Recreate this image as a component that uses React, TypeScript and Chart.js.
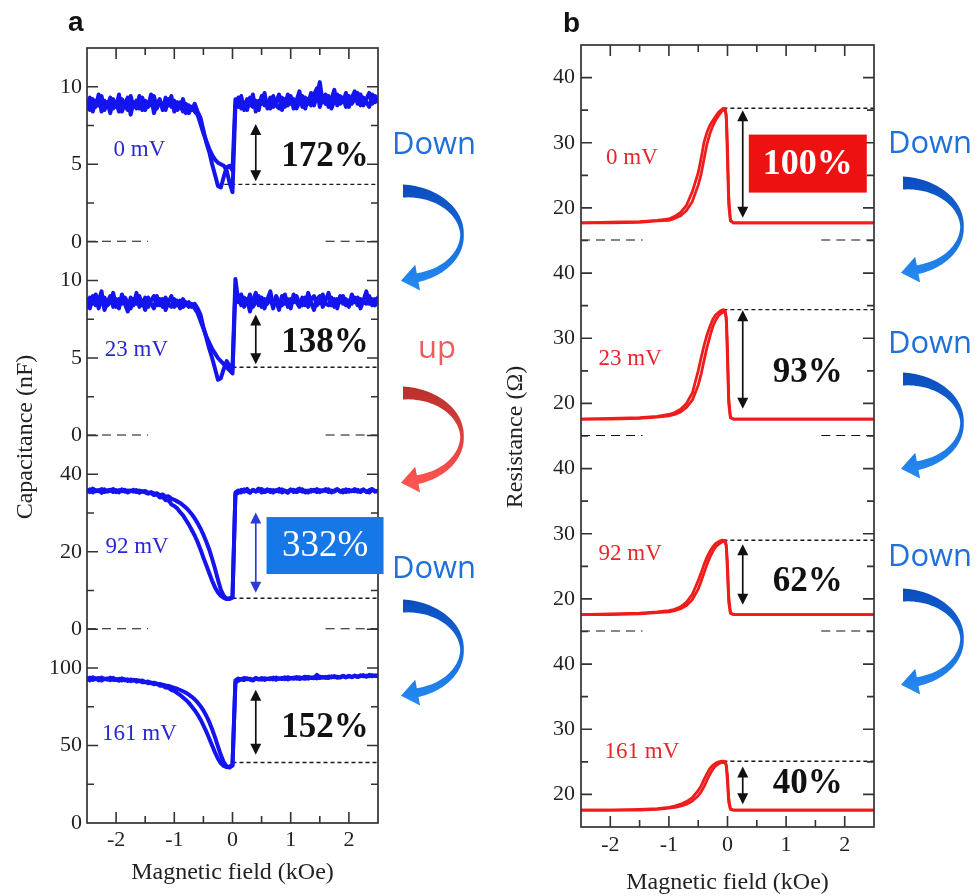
import React, { useEffect, useRef } from 'react';
import { Chart, registerables } from 'chart.js';

Chart.register(...registerables);

const SERIF = "'Liberation Serif', 'Times New Roman', serif";
const SANS = "'Open Sans', 'Noto Sans', sans-serif";

// ---------------- Panel a : capacitance (nF) vs magnetic field (kOe) ----------------
const FIELD_A = [
  -2.5, -2.45, -2.4, -2.35, -2.3, -2.25, -2.2, -2.15, -2.1, -2.05,
  -2, -1.95, -1.9, -1.85, -1.8, -1.75, -1.7, -1.65, -1.6, -1.55,
  -1.5, -1.45, -1.4, -1.35, -1.3, -1.25, -1.2, -1.15, -1.1, -1.05,
  -1, -0.95, -0.9, -0.85, -0.8, -0.75, -0.7, -0.65, -0.6, -0.55,
  -0.5, -0.45, -0.4, -0.35, -0.3, -0.25, -0.2, -0.15, -0.1, -0.05,
  0, 0.05, 0.1, 0.15, 0.2, 0.25, 0.3, 0.35, 0.4, 0.45,
  0.5, 0.55, 0.6, 0.65, 0.7, 0.75, 0.8, 0.85, 0.9, 0.95,
  1, 1.05, 1.1, 1.15, 1.2, 1.25, 1.3, 1.35, 1.4, 1.45,
  1.5, 1.55, 1.6, 1.65, 1.7, 1.75, 1.8, 1.85, 1.9, 1.95,
  2, 2.05, 2.1, 2.15, 2.2, 2.25, 2.3, 2.35, 2.4, 2.45,
  2.5,
];

const CAP_0MV_SWEEP1 = [
  8.6, 9.3, 8.4, 9.1, 8.8, 9.4, 8.5, 9.0, 8.3, 9.2,
  8.7, 9.5, 8.4, 8.9, 9.3, 8.2, 9.0, 8.6, 9.4, 8.5,
  9.1, 8.7, 9.5, 8.3, 8.9, 9.2, 8.5, 9.3, 8.8, 9.4,
  8.4, 9.0, 8.6, 9.2, 8.3, 8.8, 8.5, 8.9,
  8.4, 8.0, 7.2, 6.4, 5.8, 5.0, 4.3, 3.6, 3.5, 4.2, 4.8, 4.9, 4.6, 9.2,
  8.7, 9.4, 8.5, 9.2, 8.8, 9.5, 8.4, 9.1, 8.9, 9.6,
  8.6, 9.3, 8.7, 9.0, 9.5, 8.5, 9.2, 8.8, 9.4, 8.6,
  9.1, 9.7, 8.7, 9.3, 8.9, 9.6, 8.8, 9.4, 10.3, 9.0,
  9.5, 8.7, 9.2, 9.8, 8.8, 9.4, 9.0, 9.6, 8.7, 9.3,
  9.7, 8.9, 9.5, 8.8, 9.2, 9.6, 8.9, 9.4, 9.1,
];
const CAP_0MV_SWEEP2 = [
  9.0, 8.5, 9.2, 8.7, 9.5, 8.4, 9.1, 8.8, 9.3, 8.6,
  9.0, 8.4, 9.2, 8.8, 8.5, 9.4, 8.7, 9.1, 8.6, 9.3,
  8.5, 9.0, 8.8, 9.4, 8.6, 9.0, 8.7, 8.5, 9.2, 8.7,
  9.1, 8.5, 9.0, 8.4, 8.9, 8.3, 8.7, 8.4,
  8.2, 7.6, 7.0, 6.5, 6.0, 5.6, 5.3, 5.1, 5.0, 4.9, 4.6, 3.8, 3.2, 8.8,
  9.3, 8.6, 9.0, 8.5, 9.3, 8.7, 9.1, 8.5, 9.4, 8.8,
  9.0, 8.6, 9.4, 8.8, 8.6, 9.3, 8.7, 9.5, 8.9, 9.2,
  8.6, 9.0, 9.4, 8.6, 9.2, 8.8, 9.5, 9.9, 8.7, 9.3,
  8.9, 9.4, 8.6, 9.1, 9.5, 8.9, 9.3, 8.7, 9.4, 8.9,
  9.2, 9.6, 8.8, 9.3, 9.0, 8.7, 9.5, 9.0, 9.3,
];

const CAP_23MV_SWEEP1 = [
  8.8, 8.2, 9.0, 8.4, 8.7, 9.3, 8.1, 8.6, 9.0, 8.3,
  8.8, 8.2, 9.1, 8.5, 8.0, 8.9, 8.4, 9.2, 8.3, 8.7,
  8.1, 8.9, 8.5, 8.2, 9.0, 8.4, 8.8, 8.1, 8.6, 9.0,
  8.3, 8.7, 8.2, 8.8, 8.4, 8.6, 8.3, 8.5,
  8.2, 7.8, 7.0, 6.3, 5.6, 5.0, 4.3, 3.6, 3.7, 4.3, 4.8, 4.5, 4.3, 10.1,
  8.6, 9.1, 8.3, 8.8, 8.0, 8.7, 9.2, 8.4, 8.9, 8.2,
  8.8, 9.3, 8.4, 8.7, 8.1, 9.0, 8.5, 8.8, 8.2, 9.1,
  8.6, 8.3, 8.9, 8.4, 9.2, 8.6, 8.1, 8.8, 9.0, 8.3,
  8.7, 9.2, 8.4, 8.8, 8.2, 9.0, 8.5, 8.8, 8.3, 9.1,
  8.6, 8.9, 8.2, 8.7, 9.3, 8.5, 8.8, 8.4, 8.9,
];
const CAP_23MV_SWEEP2 = [
  8.3, 8.9, 8.5, 9.1, 8.2, 8.7, 8.9, 8.4, 8.6, 9.2,
  8.3, 8.8, 8.5, 8.9, 8.6, 8.2, 8.8, 8.5, 9.0, 8.4,
  8.9, 8.3, 8.7, 9.0, 8.4, 8.8, 8.3, 8.9, 8.5, 8.3,
  8.8, 8.4, 8.7, 8.3, 8.6, 8.3, 8.5, 8.2,
  7.9, 7.4, 6.9, 6.4, 6.0, 5.6, 5.3, 5.0, 4.8, 4.6, 4.4, 4.2, 4.0, 9.4,
  9.0, 8.4, 8.9, 8.5, 9.1, 8.3, 8.6, 9.0, 8.3, 8.8,
  8.5, 8.9, 8.2, 9.0, 8.6, 8.4, 9.1, 8.3, 8.8, 8.6,
  9.0, 8.5, 8.4, 8.9, 8.3, 8.8, 9.0, 8.4, 8.6, 9.1,
  8.5, 8.4, 8.9, 8.3, 8.8, 8.6, 9.0, 8.4, 8.7, 8.5,
  8.9, 8.4, 8.8, 8.6, 8.5, 9.0, 8.4, 8.8, 8.6,
];

const CAP_92MV_SWEEP1 = [
  36.0, 35.4, 36.3, 35.6, 35.9, 35.2, 36.1, 35.5, 35.8, 36.2,
  35.4, 35.9, 35.6, 36.0, 35.3, 35.8, 35.5, 35.9, 35.2, 35.6,
  35.3, 35.0, 35.2, 34.6, 34.8, 34.0, 34.2, 33.3, 33.3, 32.2,
  31.8, 31.2, 30.2, 29.4, 28.2, 27.0, 25.6, 24.2, 22.5, 20.6,
  18.5, 16.5, 14.5, 12.5, 10.8, 9.5, 8.6, 8.1, 7.8, 8.0, 8.2, 34.8,
  35.2, 36.0, 35.5, 36.2, 35.4, 35.9, 35.6, 36.3, 35.3, 35.8,
  36.1, 35.4, 35.9, 35.6, 36.2, 35.3, 35.8, 35.5, 36.1, 35.4,
  35.9, 36.3, 35.5, 35.8, 35.3, 36.0, 35.6, 36.2, 35.4, 35.9,
  35.7, 36.1, 35.3, 35.8, 36.2, 35.5, 35.9, 35.4, 36.0, 35.6,
  36.2, 35.5, 35.8, 36.1, 35.4, 35.9, 36.2, 35.5, 35.8,
];
const CAP_92MV_SWEEP2 = [
  35.5, 36.1, 35.3, 35.9, 35.6, 36.2, 35.4, 35.8, 36.0, 35.4,
  35.9, 35.3, 36.1, 35.5, 35.8, 35.6, 36.0, 35.4, 35.8, 35.5,
  35.7, 35.2, 35.4, 35.0, 35.1, 34.6, 34.8, 34.2, 34.3, 33.7,
  33.4, 33.0, 32.6, 32.0, 31.4, 30.6, 29.7, 28.6, 27.4, 26.0,
  24.4, 22.6, 20.6, 18.2, 15.6, 12.8, 10.2, 8.6, 7.9, 7.8, 8.2, 35.3,
  35.8, 35.3, 36.1, 35.6, 35.2, 36.0, 35.5, 35.8, 36.2, 35.4,
  35.7, 36.0, 35.3, 35.9, 35.5, 36.1, 35.6, 35.2, 35.9, 36.0,
  35.4, 35.7, 36.1, 35.3, 35.8, 35.5, 36.0, 35.4, 35.9, 35.6,
  36.2, 35.4, 35.8, 35.5, 36.0, 35.7, 35.3, 36.1, 35.5, 35.8,
  35.6, 36.0, 35.4, 35.9, 35.6, 35.3, 36.0, 35.7, 35.5,
];

const CAP_161MV_SWEEP1 = [
  93.5, 92.0, 94.0, 92.8, 93.6, 91.9, 93.2, 92.5, 93.8, 92.2,
  92.9, 91.8, 93.4, 92.0, 92.7, 91.5, 92.4, 91.2, 92.0, 90.8,
  91.0, 90.2, 90.6, 89.5, 89.8, 88.6, 88.6, 87.4, 87.2, 85.8,
  85.2, 83.8, 82.6, 81.0, 79.4, 77.5, 75.2, 72.8, 70.0, 66.8,
  63.0, 59.0, 54.5, 50.0, 45.5, 41.5, 38.5, 36.8, 36.0, 36.5, 37.5, 90.5,
  91.8, 93.0, 92.2, 93.4, 92.5, 91.9, 93.2, 92.6, 93.6, 92.3,
  93.1, 92.7, 93.8, 92.4, 93.3, 92.9, 94.0, 92.6, 93.5, 93.0,
  94.2, 92.9, 93.6, 94.4, 93.1, 93.9, 93.4, 95.6, 93.5, 94.2,
  93.6, 94.5, 93.9, 94.8, 93.7, 94.3, 95.0, 93.9, 94.6, 94.1,
  95.1, 94.2, 94.8, 95.4, 94.3, 95.6, 94.7, 95.2, 94.6,
];
const CAP_161MV_SWEEP2 = [
  92.6, 93.8, 92.3, 93.4, 92.0, 93.9, 92.7, 93.3, 92.1, 93.6,
  92.2, 93.1, 91.9, 92.8, 91.6, 92.6, 91.9, 92.3, 91.4, 91.9,
  90.9, 91.3, 90.2, 90.5, 89.9, 89.7, 89.3, 88.8, 88.4, 87.8,
  87.2, 86.6, 85.8, 85.0, 84.0, 82.8, 81.4, 79.8, 77.8, 75.4,
  72.6, 69.2, 65.2, 60.5, 55.2, 49.5, 43.8, 39.2, 36.5, 35.8, 37.0, 92.0,
  93.2, 92.4, 93.6, 92.8, 93.1, 92.3, 93.7, 92.9, 92.5, 93.4,
  92.8, 93.5, 92.6, 93.9, 93.0, 93.6, 92.8, 94.1, 93.3, 93.8,
  93.1, 94.0, 93.4, 93.0, 94.3, 93.5, 94.0, 93.3, 94.5, 93.8,
  94.3, 93.5, 94.6, 94.0, 94.4, 93.8, 94.7, 94.2, 95.0, 94.3,
  94.8, 94.4, 95.3, 94.6, 95.0, 94.7, 95.4, 94.8, 95.1,
];

const BIAS_LABELS = ['0 mV', '23 mV', '92 mV', '161 mV'];
const CAP_CHANGE = ['172%', '138%', '332%', '152%'];
const CAP_RANGE = [[0, 12.5], [0, 12.5], [0, 50], [0, 125]];
const CAP_STEP = [2.5, 2.5, 10, 25];
const CAP_TICK_LABELS = [[0, 5, 10], [0, 5, 10], [0, 20, 40], [0, 50, 100]];
const CAP_REF_LEVEL = [3.7, 4.4, 8.0, 39];
const CAP_REF_FROM = [-0.14, 0, 0, 0];
const CAP_ARROW = [[3.9, 7.6], [4.6, 7.8], [9.4, 30.1], [44, 86]];
const CAP_ARROW_X = 0.4;
const CAP_LABEL_X = [-1.6, -1.65, -1.64, -1.6];
const CAP_LABEL_Y = [5.9, 5.5, 21.3, 57.4];
const CAP_PCT_X = 1.59;
const CAP_PCT_Y = [5.55, 6.05, 21.6, 62];

// ---------------- Panel b : resistance (Ω) vs magnetic field (kOe) ----------------
const FIELD_B = [
  -2.5, -2.0, -1.5, -1.2, -1.0, -0.9, -0.8, -0.7, -0.6, -0.5,
  -0.45, -0.4, -0.35, -0.3, -0.25, -0.2, -0.15, -0.1, -0.07, -0.04,
  -0.02, 0.0, 0.02, 0.05, 0.1, 0.5, 1.0, 1.5, 2.0, 2.5,
];
const RES_0MV_SWEEP1 = [
  17.7, 17.8, 17.9, 18.1, 18.3, 18.7, 19.3, 20.4, 22.5, 25.4,
  27.6, 30.1, 31.6, 32.7, 33.4, 34.1, 34.7, 35.1, 35.3, 35.2,
  33.5, 27.0, 20.5, 18.0, 17.7, 17.7, 17.7, 17.7, 17.7, 17.7,
];
const RES_0MV_SWEEP2 = [
  17.7, 17.7, 17.8, 18.0, 18.1, 18.4, 18.8, 19.6, 21.0, 23.5,
  25.2, 27.5, 29.8, 31.4, 32.6, 33.5, 34.2, 34.8, 35.0, 35.1,
  34.3, 29.5, 22.0, 18.1, 17.7, 17.7, 17.7, 17.7, 17.7, 17.7,
];
const RES_23MV_SWEEP1 = [
  17.6, 17.7, 17.8, 18.0, 18.3, 18.6, 19.1, 20.0, 21.6, 25.0,
  27.0, 28.9, 30.5, 31.8, 32.9, 33.6, 34.0, 34.3, 34.4, 34.2,
  32.5, 26.5, 20.0, 17.8, 17.6, 17.6, 17.6, 17.6, 17.6, 17.6,
];
const RES_23MV_SWEEP2 = [
  17.6, 17.6, 17.7, 17.9, 18.1, 18.3, 18.7, 19.4, 20.5, 22.8,
  24.5, 26.6, 28.6, 30.3, 31.8, 32.8, 33.5, 33.9, 34.0, 34.0,
  33.3, 28.5, 21.0, 17.9, 17.6, 17.6, 17.6, 17.6, 17.6, 17.6,
];
const RES_92MV_SWEEP1 = [
  17.6, 17.7, 17.8, 18.0, 18.2, 18.4, 18.8, 19.5, 20.7, 22.8,
  24.0, 25.3, 26.4, 27.3, 28.0, 28.5, 28.8, 29.0, 29.0, 28.9,
  27.8, 24.0, 19.5, 17.8, 17.6, 17.6, 17.6, 17.6, 17.6, 17.6,
];
const RES_92MV_SWEEP2 = [
  17.6, 17.6, 17.7, 17.9, 18.0, 18.2, 18.5, 19.0, 19.9, 21.5,
  22.7, 24.0, 25.3, 26.4, 27.3, 28.0, 28.4, 28.7, 28.8, 28.8,
  28.3, 25.5, 20.5, 17.9, 17.6, 17.6, 17.6, 17.6, 17.6, 17.6,
];
const RES_161MV_SWEEP1 = [
  17.6, 17.6, 17.7, 17.8, 18.0, 18.2, 18.5, 18.9, 19.5, 20.6,
  21.3, 22.3, 23.2, 24.0, 24.5, 24.8, 25.0, 25.1, 25.1, 25.0,
  24.3, 21.8, 18.8, 17.7, 17.6, 17.6, 17.6, 17.6, 17.6, 17.6,
];
const RES_161MV_SWEEP2 = [
  17.6, 17.6, 17.6, 17.7, 17.9, 18.0, 18.2, 18.5, 19.0, 19.8,
  20.4, 21.2, 22.2, 23.1, 23.9, 24.4, 24.7, 24.9, 24.9, 24.9,
  24.5, 22.8, 19.5, 17.8, 17.6, 17.6, 17.6, 17.6, 17.6, 17.6,
];

const RES_CHANGE = ['100%', '93%', '62%', '40%'];
const RES_RANGE = [15, 45];
const RES_STEP = 5;
const RES_TICK_LABELS = [20, 30, 40];
const RES_REF_LEVEL = [35.3, 34.4, 29.0, 25.1];
const RES_REF_FROM = [-0.07, -0.07, -0.07, -0.07];
const RES_ARROW = [[18.5, 35.0], [19.2, 34.3], [19.1, 28.4], [18.5, 24.3]];
const RES_ARROW_X = 0.26;
const RES_LABEL_X = [-1.63, -1.66, -1.66, -1.46];
const RES_LABEL_Y = [27.6, 26.8, 26.9, 26.5];
const RES_PCT_X = 1.37;
const RES_PCT_Y = [26.8, 24.8, 22.7, 21.8];

// field segments of the dashed break marks drawn at each sub-plot's base line
const BREAK_MARK_X = [[-2.5, -1.45], [1.6, 2.5]];

// ---------------- layout (pixels, page coordinates) ----------------
const SWEEP_ARROWS_A = [
  { word: 'Down', tx: 434, tb: 154, cx: 403, top: 191, hue: 'blue' },
  { word: 'up', tx: 437, tb: 358, cx: 403, top: 393, hue: 'red' },
  { word: 'Down', tx: 434, tb: 578, cx: 403, top: 606, hue: 'blue' },
];
const SWEEP_ARROWS_B = [
  { word: 'Down', tx: 930, tb: 153, cx: 903, top: 183, hue: 'blue' },
  { word: 'Down', tx: 930, tb: 353, cx: 903, top: 379, hue: 'blue' },
  { word: 'Down', tx: 930, tb: 566, cx: 903, top: 595, hue: 'blue' },
];

function zip(xs: number[], ys: number[]) {
  const n = Math.min(xs.length, ys.length);
  const out: { x: number; y: number }[] = [];
  for (let k = 0; k < n; k++) out.push({ x: xs[k], y: ys[k] });
  return out;
}

function drawDoubleArrow(ctx: any, x: number, yTop: number, yBot: number, color: string) {
  const hl = 11, hw = 5.5;
  ctx.save();
  ctx.strokeStyle = color;
  ctx.fillStyle = color;
  ctx.lineWidth = 1.7;
  ctx.beginPath();
  ctx.moveTo(x, yTop + hl - 1);
  ctx.lineTo(x, yBot - hl + 1);
  ctx.stroke();
  ctx.beginPath();
  ctx.moveTo(x, yTop);
  ctx.lineTo(x - hw, yTop + hl);
  ctx.lineTo(x + hw, yTop + hl);
  ctx.closePath();
  ctx.fill();
  ctx.beginPath();
  ctx.moveTo(x, yBot);
  ctx.lineTo(x - hw, yBot - hl);
  ctx.lineTo(x + hw, yBot - hl);
  ctx.closePath();
  ctx.fill();
  ctx.restore();
}

function drawCurvedArrow(ctx: any, cx: number, top: number, hue: string) {
  const rx = 59, ry = 44;
  const cy = top + ry;
  const th0 = -Math.PI / 2;
  const th1 = Math.PI * 0.42;
  const N = 60;
  const outer: number[][] = [];
  const inner: number[][] = [];
  const tMid = (0 - th0) / (th1 - th0);
  let endP = [0, 0], endT = [0, 0], endN = [0, 0];
  for (let i = 0; i <= N; i++) {
    const t = i / N;
    const th = th0 + (th1 - th0) * t;
    const px = cx + rx * Math.cos(th);
    const py = cy + ry * Math.sin(th);
    let tx = -rx * Math.sin(th), ty = ry * Math.cos(th);
    const l = Math.hypot(tx, ty);
    tx /= l; ty /= l;
    const nx = ty, ny = -tx;
    let w;
    if (t < tMid) {
      const u = (tMid - t) / tMid;
      w = 3.5 + 9.5 * Math.pow(u, 1.1);
    } else {
      const u = (t - tMid) / (1 - tMid);
      w = 3.5 + 5.5 * u;
    }
    outer.push([px + nx * w / 2, py + ny * w / 2]);
    inner.push([px - nx * w / 2, py - ny * w / 2]);
    if (i === N) { endP = [px, py]; endT = [tx, ty]; endN = [nx, ny]; }
  }
  const hw = 13, hl = 17;
  const grad = ctx.createLinearGradient(cx, top - 6, cx, cy + ry + 6);
  if (hue === 'red') {
    grad.addColorStop(0, '#b8302c');
    grad.addColorStop(1, '#ff5552');
  } else {
    grad.addColorStop(0, '#0b4cbf');
    grad.addColorStop(1, '#2389f0');
  }
  ctx.save();
  ctx.fillStyle = grad;
  ctx.beginPath();
  ctx.moveTo(outer[0][0], outer[0][1]);
  for (const p of outer) ctx.lineTo(p[0], p[1]);
  ctx.lineTo(endP[0] + endN[0] * hw, endP[1] + endN[1] * hw);
  ctx.lineTo(endP[0] + endT[0] * hl, endP[1] + endT[1] * hl);
  ctx.lineTo(endP[0] - endN[0] * hw, endP[1] - endN[1] * hw);
  for (let i = inner.length - 1; i >= 0; i--) ctx.lineTo(inner[i][0], inner[i][1]);
  ctx.closePath();
  ctx.fill();
  ctx.restore();
}

type Panel = any;

const PANEL_A: Panel = {
  letter: 'a', letterX: 68, letterY: 31,
  canvasLeft: 0, width: 490, height: 896,
  padding: { left: 37, top: 48, right: 112, bottom: 13 },
  xTickPad: 4, yTickPad: 5,
  lineColor: '#1414ee', lineWidth: 4.0, labelColor: '#2828d4',
  yTitle: 'Capacitance (nF)', yTitleX: 26, yTitleY: 437,
  xTitleY: 873,
  axes: CAP_RANGE.map((r, i) => ({ id: 'capY' + i, min: r[0], max: r[1], step: CAP_STEP[i], labels: CAP_TICK_LABELS[i] })),
  field: FIELD_A,
  sweeps: [
    [CAP_0MV_SWEEP1, CAP_0MV_SWEEP2],
    [CAP_23MV_SWEEP1, CAP_23MV_SWEEP2],
    [CAP_92MV_SWEEP1, CAP_92MV_SWEEP2],
    [CAP_161MV_SWEEP1, CAP_161MV_SWEEP2],
  ],
  refLevel: CAP_REF_LEVEL, refFrom: CAP_REF_FROM,
  arrows: CAP_ARROW, arrowX: CAP_ARROW_X,
  arrowColors: ['#111', '#111', '#2a3bd6', '#111'],
  labelX: CAP_LABEL_X, labelY: CAP_LABEL_Y,
  pct: CAP_CHANGE, pctX: CAP_PCT_X, pctY: CAP_PCT_Y,
  box: { index: 2, color: '#1677e6', w: 117, h: 57, bold: false, size: 37 },
  sweepArrows: SWEEP_ARROWS_A,
};

const PANEL_B: Panel = {
  letter: 'b', letterX: 73, letterY: 32,
  canvasLeft: 490, width: 487, height: 896,
  padding: { left: 41, top: 45, right: 103, bottom: 9 },
  xTickPad: 5, yTickPad: 6,
  lineColor: '#f01c1c', lineWidth: 2.8, labelColor: '#e8262a',
  yTitle: 'Resistance (Ω)', yTitleX: 26, yTitleY: 437,
  xTitleY: 883,
  axes: [0, 1, 2, 3].map((i) => ({ id: 'resY' + i, min: RES_RANGE[0], max: RES_RANGE[1], step: RES_STEP, labels: RES_TICK_LABELS })),
  field: FIELD_B,
  sweeps: [
    [RES_0MV_SWEEP1, RES_0MV_SWEEP2],
    [RES_23MV_SWEEP1, RES_23MV_SWEEP2],
    [RES_92MV_SWEEP1, RES_92MV_SWEEP2],
    [RES_161MV_SWEEP1, RES_161MV_SWEEP2],
  ],
  refLevel: RES_REF_LEVEL, refFrom: RES_REF_FROM,
  arrows: RES_ARROW, arrowX: RES_ARROW_X,
  arrowColors: ['#111', '#111', '#111', '#111'],
  labelX: RES_LABEL_X, labelY: RES_LABEL_Y,
  pct: RES_CHANGE, pctX: RES_PCT_X, pctY: RES_PCT_Y,
  box: { index: 0, color: '#ee1111', w: 118, h: 58, bold: true, size: 36 },
  sweepArrows: SWEEP_ARROWS_B,
};

function makeOverlay(p: Panel) {
  return {
    id: 'overlay_' + p.letter,
    afterDatasetsDraw(chart: any) {
      const ctx = chart.ctx;
      const ca = chart.chartArea;
      const xs = chart.scales.x;
      ctx.save();
      // frame
      ctx.strokeStyle = '#333';
      ctx.lineWidth = 1.7;
      ctx.strokeRect(ca.left, ca.top, ca.right - ca.left, ca.bottom - ca.top);
      // inward tick marks
      ctx.lineWidth = 1.6;
      ctx.beginPath();
      xs.ticks.forEach((t: any) => {
        const v = t.value;
        if (v <= xs.min + 1e-9 || v >= xs.max - 1e-9) return;
        const px = xs.getPixelForValue(v);
        const len = Number.isInteger(v) ? 11 : 7;
        ctx.moveTo(px, ca.bottom); ctx.lineTo(px, ca.bottom - len);
        ctx.moveTo(px, ca.top); ctx.lineTo(px, ca.top + len);
      });
      p.axes.forEach((ax: any, i: number) => {
        const ys = chart.scales[ax.id];
        ys.ticks.forEach((t: any) => {
          const v = t.value;
          if (v >= ax.max - 1e-9) return;
          if (i === p.axes.length - 1 && v <= ax.min + 1e-9) return;
          const py = ys.getPixelForValue(v);
          const len = ax.labels.includes(v) ? 11 : 7;
          ctx.moveTo(ca.left, py); ctx.lineTo(ca.left + len, py);
          ctx.moveTo(ca.right, py); ctx.lineTo(ca.right - len, py);
        });
      });
      ctx.stroke();

      // per sub-plot annotations
      p.axes.forEach((ax: any, i: number) => {
        const ys = chart.scales[ax.id];
        const axX = xs.getPixelForValue(p.arrowX);
        drawDoubleArrow(ctx, axX, ys.getPixelForValue(p.arrows[i][1]), ys.getPixelForValue(p.arrows[i][0]), p.arrowColors[i]);
        ctx.fillStyle = p.labelColor;
        ctx.font = `23px ${SERIF}`;
        ctx.textAlign = 'center';
        ctx.textBaseline = 'middle';
        ctx.fillText(BIAS_LABELS[i], xs.getPixelForValue(p.labelX[i]), ys.getPixelForValue(p.labelY[i]));
        const px = xs.getPixelForValue(p.pctX);
        const py = ys.getPixelForValue(p.pctY[i]);
        if (p.box.index === i) {
          ctx.fillStyle = p.box.color;
          ctx.fillRect(px - p.box.w / 2, py - p.box.h / 2, p.box.w, p.box.h);
          ctx.fillStyle = '#ffffff';
          ctx.font = `${p.box.bold ? 'bold ' : ''}${p.box.size}px ${SERIF}`;
          ctx.fillText(p.pct[i], px, py + 1);
        } else {
          ctx.fillStyle = '#111';
          ctx.font = `bold 35px ${SERIF}`;
          ctx.fillText(p.pct[i], px, py + 1);
        }
      });

      // axis titles
      ctx.fillStyle = '#222';
      ctx.font = `24px ${SERIF}`;
      ctx.textAlign = 'center';
      ctx.textBaseline = 'middle';
      ctx.fillText('Magnetic field (kOe)', (ca.left + ca.right) / 2, p.xTitleY);
      ctx.save();
      ctx.translate(p.yTitleX, p.yTitleY);
      ctx.rotate(-Math.PI / 2);
      ctx.fillText(p.yTitle, 0, 0);
      ctx.restore();

      // panel letter
      ctx.fillStyle = '#111';
      ctx.font = `bold 28px 'Liberation Sans', Arial, sans-serif`;
      ctx.textAlign = 'left';
      ctx.textBaseline = 'alphabetic';
      ctx.fillText(p.letter, p.letterX, p.letterY);

      // sweep direction arrows
      p.sweepArrows.forEach((s: any) => {
        ctx.fillStyle = s.hue === 'red' ? '#e85f5c' : '#1f70d8';
        ctx.font = `31px ${SANS}`;
        ctx.textAlign = 'center';
        ctx.textBaseline = 'alphabetic';
        ctx.fillText(s.word, s.tx - p.canvasLeft, s.tb);
        drawCurvedArrow(ctx, s.cx - p.canvasLeft, s.top, s.hue);
      });
      ctx.restore();
    },
  };
}

function buildConfig(p: Panel) {
  const tickFont = { family: SERIF, size: 22 };
  const scales: any = {
    x: {
      type: 'linear',
      position: 'bottom',
      min: -2.5,
      max: 2.5,
      ticks: {
        stepSize: 0.5,
        autoSkip: false,
        maxRotation: 0,
        padding: p.xTickPad,
        color: '#222',
        font: tickFont,
        callback: (v: number) => (Number.isInteger(v) && Math.abs(v) < 2.5 ? String(v) : ''),
      },
      grid: { display: false, drawTicks: false },
      border: { display: false },
      afterFit: (s: any) => { s.height = 60; },
    },
  };
  p.axes.forEach((ax: any, i: number) => {
    scales[ax.id] = {
      type: 'linear',
      position: 'left',
      stack: 'subplots',
      stackWeight: 1,
      weight: 10 - i,
      min: ax.min,
      max: ax.max,
      ticks: {
        stepSize: ax.step,
        autoSkip: false,
        padding: p.yTickPad,
        color: '#222',
        font: tickFont,
        callback: (v: number) => (ax.labels.includes(v) ? String(v) : ''),
      },
      grid: { display: false, drawTicks: false },
      border: { display: false },
      afterFit: (s: any) => { s.width = 50; },
    };
  });

  const datasets: any[] = [];
  p.axes.forEach((ax: any, i: number) => {
    p.sweeps[i].forEach((ys: number[]) => {
      datasets.push({
        data: zip(p.field, ys),
        yAxisID: ax.id,
        borderColor: p.lineColor,
        borderWidth: p.lineWidth,
        borderJoinStyle: 'round',
        borderCapStyle: 'round',
        pointRadius: 0,
        tension: 0,
        fill: false,
      });
    });
    datasets.push({
      data: [{ x: p.refFrom[i], y: p.refLevel[i] }, { x: 2.5, y: p.refLevel[i] }],
      yAxisID: ax.id,
      borderColor: '#1a1a1a',
      borderWidth: 1.4,
      borderDash: [4, 3],
      pointRadius: 0,
      fill: false,
    });
    if (i < p.axes.length - 1) {
      datasets.push({
        data: [
          { x: BREAK_MARK_X[0][0], y: ax.min },
          { x: BREAK_MARK_X[0][1], y: ax.min },
          { x: 0, y: null },
          { x: BREAK_MARK_X[1][0], y: ax.min },
          { x: BREAK_MARK_X[1][1], y: ax.min },
        ],
        yAxisID: ax.id,
        borderColor: '#111',
        borderWidth: 2,
        borderDash: [9, 6],
        pointRadius: 0,
        spanGaps: false,
        fill: false,
      });
    }
  });

  return {
    type: 'line',
    data: { datasets },
    options: {
      responsive: false,
      animation: false,
      devicePixelRatio: 1,
      layout: { padding: p.padding },
      plugins: { legend: { display: false }, tooltip: { enabled: false }, title: { display: false } },
      scales,
    },
    plugins: [makeOverlay(p)],
  } as any;
}

export default function App() {
  const refA = useRef<HTMLCanvasElement>(null);
  const refB = useRef<HTMLCanvasElement>(null);
  useEffect(() => {
    const a = new Chart(refA.current as HTMLCanvasElement, buildConfig(PANEL_A));
    const b = new Chart(refB.current as HTMLCanvasElement, buildConfig(PANEL_B));
    return () => {
      a.destroy();
      b.destroy();
    };
  }, []);
  return (
    <div style={{ position: 'absolute', left: 0, top: 0, width: 977, height: 896, background: '#ffffff' }}>
      <canvas ref={refA} width={490} height={896} style={{ position: 'absolute', left: 0, top: 0, width: 490, height: 896 }} />
      <canvas ref={refB} width={487} height={896} style={{ position: 'absolute', left: 490, top: 0, width: 487, height: 896 }} />
    </div>
  );
}
